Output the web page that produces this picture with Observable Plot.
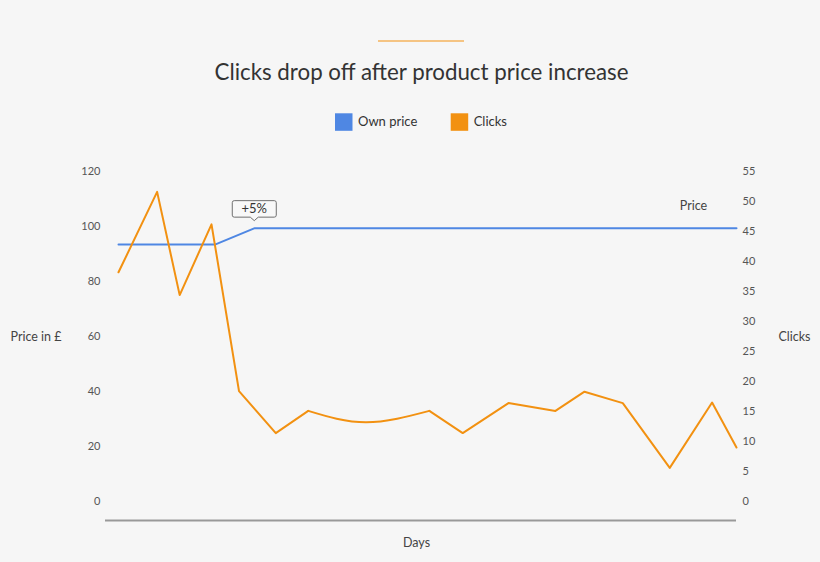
<!DOCTYPE html>
<html>
<head>
<meta charset="utf-8">
<script src="https://cdn.jsdelivr.net/npm/d3@7"></script>
<script src="https://cdn.jsdelivr.net/npm/@observablehq/plot@0.6"></script>
<style>
  html, body { margin: 0; padding: 0; background: #f6f6f6; }
  body { width: 820px; height: 562px; overflow: hidden; font-family: Lato, "Open Sans", sans-serif; }
  #header, #chart { display: block; }
  #chart svg { display: block; background: #f6f6f6; }
</style>
</head>
<body>
<div id="header"></div>
<div id="chart"></div>
<script>
// ---- data ----
const title = "Clicks drop off after product price increase";
const seriesNames = ["Own price", "Clicks"];
const seriesColors = ["#4f87e3", "#f29111"];

// price series (day position, price in £)
const priceDays   = [0, 3.14, 4.41, 20];
const priceValues = [93.5, 93.5, 99.4, 99.4];

// clicks series (day position, clicks)
const clickDays   = [0, 1.25, 1.98, 3.01, 3.90, 5.09, 6.14, 8.01, 10.06, 11.14, 12.62, 14.14, 15.08, 16.32, 17.84, 19.21, 20];
const clickValues = [38.2, 51.6, 34.4, 46.2, 18.4, 11.4, 15.1, 13.2, 15.1, 11.4, 16.4, 15.1, 18.3, 16.4, 5.6, 16.5, 9.0];
// the stretch drawn as a smooth arc
const arcStart = 6.14, arcEnd = 10.06;

const priceTicks = [0, 20, 40, 60, 80, 100, 120];
const clickTicks = [0, 5, 10, 15, 20, 25, 30, 35, 40, 45, 50, 55];
const priceMax = 120, clickMax = 55;

const annotation = {day: 4.41, price: 99.4, label: "+5%"};

// ---- tables ----
const k = priceMax / clickMax;
const price = priceDays.map((d, i) => ({day: d, value: priceValues[i]}));
const clicks = clickDays.map((d, i) => ({day: d, value: clickValues[i] * k, seg: d <= arcStart ? "a" : "c"}));
const clicksStraight = clicks.filter(d => d.day <= arcStart || d.day >= arcEnd);
const clicksArc = clicks.filter(d => d.day >= arcStart && d.day <= arcEnd);

// ---- header (rule, title, legend) ----
const header = d3.select("#header").append("svg")
  .attr("width", 820).attr("height", 150)
  .style("display", "block")
  .style("font-family", "Lato, 'Open Sans', sans-serif");
header.append("line")
  .attr("x1", 378).attr("x2", 464).attr("y1", 41).attr("y2", 41)
  .attr("stroke", "#f5b35c").attr("stroke-width", 1.5);
header.append("text")
  .attr("x", 421.5).attr("y", 79.5).attr("text-anchor", "middle")
  .attr("font-size", 22.3).attr("fill", "#333").text(title);
const legendX = [335, 450.7];
seriesNames.forEach((name, i) => {
  header.append("rect").attr("x", legendX[i]).attr("y", 113.3)
    .attr("width", 17.5).attr("height", 17.5).attr("fill", seriesColors[i]);
  header.append("text").attr("x", legendX[i] + 23).attr("y", 125.5)
    .attr("font-size", 13).attr("fill", "#333").text(name);
});

// ---- annotation box mark (positioned with the plot's scales) ----
function calloutMark(index, scales) {
  const px = scales.x(annotation.day);
  const py = scales.y(annotation.price);
  const tip = py - 7, bottom = tip - 3.5, top = bottom - 16.5;
  const left = px - 22, right = px + 22, r = 2, pw = 4;
  const p = d3.path();
  p.moveTo(left + r, top);
  p.lineTo(right - r, top);
  p.arcTo(right, top, right, top + r, r);
  p.lineTo(right, bottom - r);
  p.arcTo(right, bottom, right - r, bottom, r);
  p.lineTo(px + pw, bottom);
  p.lineTo(px, tip);
  p.lineTo(px - pw, bottom);
  p.lineTo(left + r, bottom);
  p.arcTo(left, bottom, left, bottom - r, r);
  p.lineTo(left, top + r);
  p.arcTo(left, top, left + r, top, r);
  p.closePath();
  const g = d3.create("svg:g");
  g.append("path").attr("d", p.toString())
    .attr("fill", "#f8f8f8").attr("stroke", "#6f6f6f").attr("stroke-width", 1);
  g.append("text").attr("x", px).attr("y", (top + bottom) / 2).attr("dy", "0.35em")
    .attr("text-anchor", "middle").attr("font-size", 13).attr("fill", "#333")
    .attr("font-family", "Lato, 'Open Sans', sans-serif")
    .text(annotation.label);
  return g.node();
}

// ---- chart ----
const chart = Plot.plot({
  width: 820,
  height: 412,
  marginTop: 21,
  marginBottom: 42,
  marginLeft: 105,
  marginRight: 84,
  insetLeft: 13,
  insetBottom: 19,
  style: {background: "#f6f6f6", fontFamily: "Lato, 'Open Sans', sans-serif", color: "#444"},
  x: {domain: [0, 20], axis: null},
  y: {domain: [0, priceMax], axis: null},
  marks: [
    Plot.axisY(priceTicks, {anchor: "left", tickSize: 0, tickPadding: 5, fontSize: 11, fill: "#555", label: null}),
    Plot.axisY(clickTicks.map(v => v * k), {anchor: "right", tickSize: 0, tickPadding: 6, fontSize: 11, fill: "#555",
      tickFormat: v => String(Math.round(v / k)), label: null}),
    Plot.ruleY([0], {dy: 19, stroke: "#999", strokeWidth: 2}),
    Plot.line(price, {x: "day", y: "value", stroke: seriesColors[0], strokeWidth: 2}),
    Plot.line(clicksStraight, {x: "day", y: "value", z: "seg", stroke: seriesColors[1], strokeWidth: 2}),
    Plot.line(clicksArc, {x: "day", y: "value", curve: "natural", stroke: seriesColors[1], strokeWidth: 2}),
    Plot.text(["Price in £"], {frameAnchor: "left", textAnchor: "start", dx: -95, dy: -9.5, fontSize: 12.5, fill: "#444"}),
    Plot.text(["Clicks"], {frameAnchor: "right", textAnchor: "start", dx: 42, dy: -9.5, fontSize: 12.5, fill: "#444"}),
    Plot.text(["Days"], {frameAnchor: "bottom", lineAnchor: "middle", dx: -4.5, dy: 22, fontSize: 12.5, fill: "#444"}),
    Plot.text([price[price.length - 1]], {x: "day", y: "value", text: () => "Price", dx: -43, dy: -22, fontSize: 12.5, fill: "#444"}),
    calloutMark
  ]
});
document.getElementById("chart").append(chart);
</script>
</body>
</html>
